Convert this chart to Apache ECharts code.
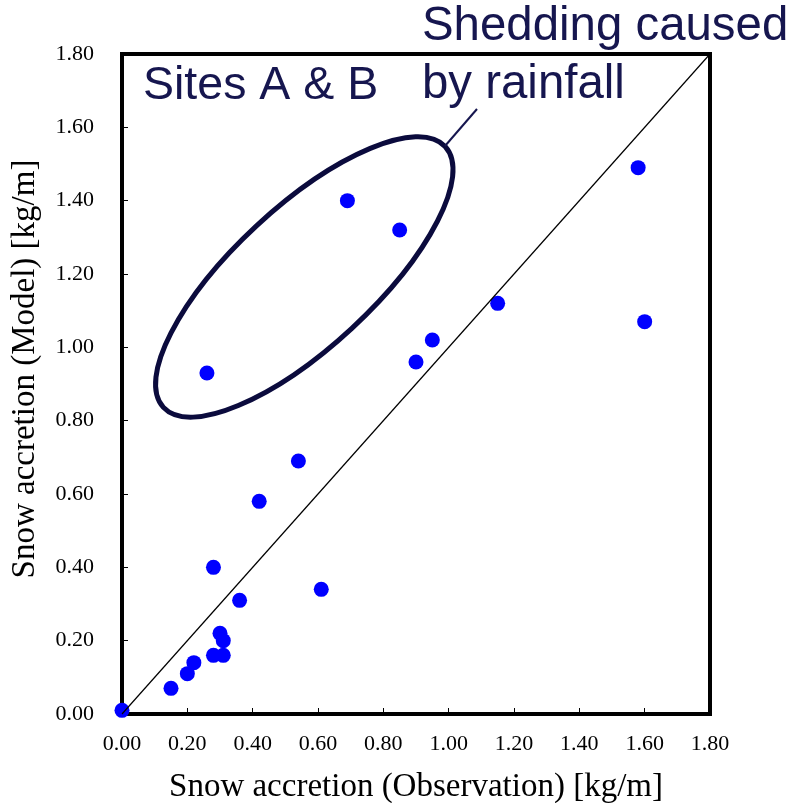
<!DOCTYPE html>
<html>
<head>
<meta charset="utf-8">
<script src="https://cdn.jsdelivr.net/npm/echarts@6/dist/echarts.min.js"></script>
<style>
  html, body { margin: 0; padding: 0; background: #fff; }
  #chart { width: 794px; height: 803px; }
</style>
</head>
<body>
<div id="chart"></div>
<script>
// Observed vs. modelled snow accretion [kg/m]
const observed = [0.00, 0.15, 0.20, 0.22, 0.28, 0.31, 0.30, 0.31, 0.36, 0.28, 0.61, 0.42, 0.54, 0.26, 0.69, 0.85, 0.90, 0.95, 1.15, 1.58, 1.60];
const modelled = [0.01, 0.07, 0.11, 0.14, 0.16, 0.16, 0.22, 0.20, 0.31, 0.40, 0.34, 0.58, 0.69, 0.93, 1.40, 1.32, 0.96, 1.02, 1.12, 1.49, 1.07];

// 1:1 reference line
const parityX = [0, 1.8];
const parityY = [0, 1.8];

// Axis ticks
const tickMin = 0;
const tickMax = 1.8;
const tickStep = 0.2;

// Outlined group (Sites A & B, shedding by rainfall), centre in data units
const groupCentre = [0.558, 1.192];

const navy = '#16164f';
const serif = '"Liberation Serif", "Times New Roman", serif';
const sans = '"Liberation Sans", Arial, sans-serif';

const points = observed.map((x, i) => [x, modelled[i]]);
const parity = parityX.map((x, i) => [x, parityY[i]]);

const chart = echarts.init(document.getElementById('chart'), null, { renderer: 'canvas' });

const axisCommon = {
  type: 'value',
  min: tickMin,
  max: tickMax,
  interval: tickStep,
  axisLine: { show: true, onZero: false, lineStyle: { color: '#000', width: 4 } },
  axisTick: { show: true, inside: true, length: 6, lineStyle: { color: '#000', width: 1 } },
  splitLine: { show: false },
  axisLabel: {
    color: '#000',
    fontFamily: serif,
    fontSize: 22,
    formatter: v => v.toFixed(2)
  },
  nameLocation: 'middle',
  nameTextStyle: { color: '#000', fontFamily: serif, fontSize: 33 }
};

chart.setOption({
  animation: false,
  backgroundColor: '#fff',
  grid: {
    left: 122, right: 84, top: 54, bottom: 89,
    outerBoundsMode: 'none',
    containLabel: false,
    show: true, borderColor: '#000', borderWidth: 4, backgroundColor: 'transparent'
  },
  xAxis: Object.assign({}, axisCommon, {
    name: 'Snow accretion (Observation) [kg/m]',
    nameGap: 57,
    axisLabel: Object.assign({}, axisCommon.axisLabel, { margin: 19 })
  }),
  yAxis: Object.assign({}, axisCommon, {
    name: 'Snow accretion (Model) [kg/m]',
    nameGap: 80,
    nameTextStyle: Object.assign({}, axisCommon.nameTextStyle, { padding: [0, 0, 0, 30] }),
    axisLabel: Object.assign({}, axisCommon.axisLabel, { margin: 28 })
  }),
  series: [
    {
      type: 'scatter',
      data: points,
      symbol: 'circle',
      symbolSize: 15,
      itemStyle: { color: '#0000ff', opacity: 1 },
      clip: false,
      z: 3
    },
    {
      type: 'line',
      data: parity,
      showSymbol: false,
      symbol: 'none',
      lineStyle: { color: '#000', width: 1.2 },
      clip: false,
      z: 4
    }
  ]
});

const c = chart.convertToPixel({ gridIndex: 0 }, groupCentre);

chart.setOption({
  graphic: [
    {
      type: 'ellipse',
      x: c[0], y: c[1],
      rotation: 42.8 * Math.PI / 180,
      shape: { cx: 0, cy: 0, rx: 192, ry: 70 },
      style: { fill: 'none', stroke: '#0b0b3d', lineWidth: 5 },
      z: 10
    },
    {
      type: 'line',
      shape: { x1: 445, y1: 146, x2: 477, y2: 109 },
      style: { stroke: navy, lineWidth: 2 },
      z: 10
    },
    {
      type: 'text',
      x: 143, y: 86,
      style: { text: 'Sites A & B', font: '46.5px ' + sans, fill: navy, verticalAlign: 'middle', align: 'left' },
      z: 11
    },
    {
      type: 'text',
      x: 422, y: 27,
      style: { text: 'Shedding caused', font: '47.4px ' + sans, fill: navy, verticalAlign: 'middle', align: 'left' },
      z: 11
    },
    {
      type: 'text',
      x: 422, y: 85,
      style: { text: 'by rainfall', font: '47.4px ' + sans, fill: navy, verticalAlign: 'middle', align: 'left' },
      z: 11
    }
  ]
});
</script>
</body>
</html>
